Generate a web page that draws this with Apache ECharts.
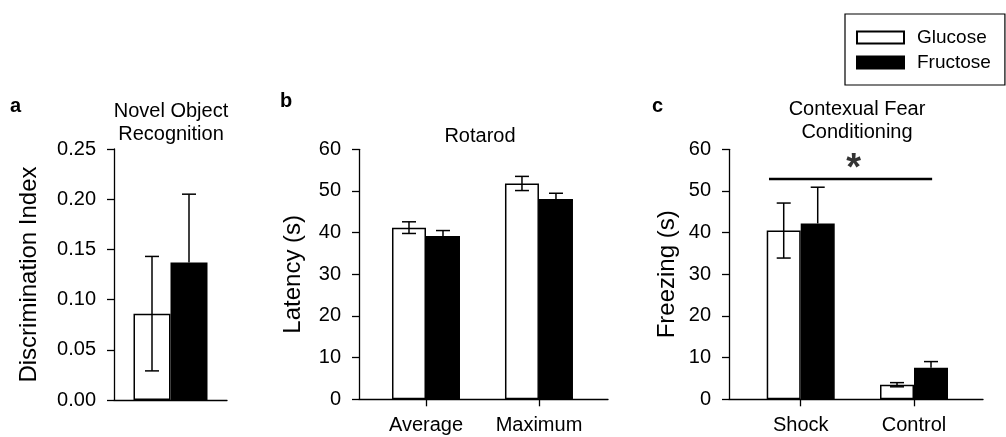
<!DOCTYPE html>
<html><head><meta charset="utf-8">
<script src="https://cdn.jsdelivr.net/npm/echarts@6/dist/echarts.min.js"></script>
<style>html,body{margin:0;padding:0;background:#fff}#c{width:1006px;height:437px}</style>
</head><body><div id="c"></div>
<script>
// ---------------- data ----------------
const norCategories = ['Novel Object Recognition'];
const norGlucose = [0.086];
const norFructose = [0.137];
const norGlucoseSem = [0.057];
const norFructoseSem = [0.068];
const norTicks = [0, 0.05, 0.10, 0.15, 0.20, 0.25];

const rotarodCategories = ['Average', 'Maximum'];
const rotarodGlucose = [41.2, 51.8];
const rotarodFructose = [39.2, 48.1];
const rotarodGlucoseSem = [1.4, 1.7];
const rotarodFructoseSem = [1.3, 1.35];
const rotarodTicks = [0, 10, 20, 30, 40, 50, 60];

const fearCategories = ['Shock', 'Control'];
const fearGlucose = [40.5, 3.5];
const fearFructose = [42.2, 7.6];
const fearGlucoseSem = [6.6, 0.5];
const fearFructoseSem = [8.7, 1.45];
const fearTicks = [0, 10, 20, 30, 40, 50, 60];

const seriesNames = ['Glucose', 'Fructose'];
const sigBracket = [0.72, 2.16];   // category-unit extent of the significance bar
const sigLevel = [52.9];
const sigLabel = ['*'];

// ---------------- layout / style ----------------
const FONT = "'Liberation Sans', Arial, sans-serif";
const panels = [
  { cats: norCategories, g: norGlucose, f: norFructose, gs: norGlucoseSem, fs: norFructoseSem, ticks: norTicks,
    yName: 'Discrimination Index', grid: { left: 114, top: 149, width: 113, height: 251 },
    xMin: 0, xMax: 2, barW: 37, catTicks: false, nameGap: 73, dec: 2 },
  { cats: rotarodCategories, g: rotarodGlucose, f: rotarodFructose, gs: rotarodGlucoseSem, fs: rotarodFructoseSem, ticks: rotarodTicks,
    yName: 'Latency (s)', grid: { left: 359, top: 149.3, width: 249, height: 250 },
    xMin: 0.407, xMax: 2.611, barW: 34, catTicks: true, nameGap: 54, dec: 0 },
  { cats: fearCategories, g: fearGlucose, f: fearFructose, gs: fearGlucoseSem, fs: fearFructoseSem, ticks: fearTicks,
    yName: 'Freezing (s)', grid: { left: 729, top: 149.3, width: 254, height: 250 },
    xMin: 0.367, xMax: 2.609, barW: 34, catTicks: true, nameGap: 50, dec: 0 }
];

function errRender(side, barW, both) {
  return function (params, api) {
    const x = api.value(0), v = api.value(1), e = api.value(2);
    const base = api.coord([x, v]);
    const cx = base[0] + side * barW / 2;
    const top = api.coord([x, v + e])[1];
    const bot = both ? api.coord([x, v - e])[1] : base[1];
    const half = 7;
    const style = { stroke: '#000', lineWidth: 1.5 };
    const children = [
      { type: 'line', shape: { x1: cx, y1: top, x2: cx, y2: bot }, style },
      { type: 'line', shape: { x1: cx - half, y1: top, x2: cx + half, y2: top }, style }
    ];
    if (both) children.push({ type: 'line', shape: { x1: cx - half, y1: bot, x2: cx + half, y2: bot }, style });
    return { type: 'group', children };
  };
}

const grids = [], xAxes = [], yAxes = [], series = [];
panels.forEach((p, i) => {
  grids.push(Object.assign({ containLabel: false }, p.grid));
  const catVals = p.cats.map((c, j) => j + 1);
  xAxes.push({
    type: 'value', gridIndex: i, min: p.xMin, max: p.xMax,
    axisLine: { show: true, onZero: false, lineStyle: { color: '#000', width: 1.3 } },
    axisTick: { show: p.catTicks, length: 7, lineStyle: { color: '#000', width: 1.3 }, customValues: catVals },
    axisLabel: { show: p.catTicks, customValues: catVals, margin: 16, color: '#000', fontSize: 20, fontFamily: FONT,
      formatter: v => p.cats[Math.round(v) - 1] || '' },
    splitLine: { show: false }
  });
  const step = p.ticks[1] - p.ticks[0];
  yAxes.push({
    type: 'value', gridIndex: i, min: p.ticks[0], max: p.ticks[p.ticks.length - 1], interval: step,
    name: p.yName, nameLocation: 'middle', nameRotate: 90, nameGap: p.nameGap,
    nameTextStyle: { fontSize: 24, color: '#000', fontFamily: FONT },
    axisLine: { show: true, lineStyle: { color: '#000', width: 1.3 } },
    axisTick: { show: true, length: 7, lineStyle: { color: '#000', width: 1.3 } },
    axisLabel: { margin: 18, color: '#000', fontSize: 20, fontFamily: FONT, formatter: v => v.toFixed(p.dec) },
    splitLine: { show: false }
  });
  const common = { type: 'bar', xAxisIndex: i, yAxisIndex: i, barWidth: p.barW, barGap: '0%', animation: false };
  series.push(Object.assign({}, common, {
    name: seriesNames[0], data: p.g.map((v, j) => [j + 1, v]),
    itemStyle: { color: '#fff', borderColor: '#000', borderWidth: 1.5 }
  }));
  series.push(Object.assign({}, common, {
    name: seriesNames[1], data: p.f.map((v, j) => [j + 1, v]),
    itemStyle: { color: '#000', borderColor: '#000', borderWidth: 1.5 }
  }));
  series.push({ type: 'custom', name: 'Glucose SEM', xAxisIndex: i, yAxisIndex: i, z: 5, animation: false, silent: true,
    renderItem: errRender(-1, p.barW, true), encode: { x: 0, y: 1 },
    data: p.g.map((v, j) => [j + 1, v, p.gs[j]]) });
  series.push({ type: 'custom', name: 'Fructose SEM', xAxisIndex: i, yAxisIndex: i, z: 5, animation: false, silent: true,
    renderItem: errRender(1, p.barW, false), encode: { x: 0, y: 1 },
    data: p.f.map((v, j) => [j + 1, v, p.fs[j]]) });
  if (i === 2) {
    series.push({ type: 'line', name: 'sig', xAxisIndex: i, yAxisIndex: i, z: 6, animation: false, silent: true,
      symbol: 'none', lineStyle: { color: '#000', width: 2.5 },
      data: sigBracket.map(x => [x, sigLevel[0]]) });
    series.push({ type: 'scatter', name: 'sigStar', xAxisIndex: i, yAxisIndex: i, z: 6, animation: false, silent: true,
      symbolSize: 0,
      label: { show: true, position: 'inside', formatter: sigLabel[0], color: '#000', fontSize: 38, fontWeight: 'bold', fontFamily: FONT,
        offset: [3, -9] },
      data: [[(sigBracket[0] + sigBracket[1]) / 2, sigLevel[0]]] });
  }
});

const chart = echarts.init(document.getElementById('c'), null, { renderer: 'canvas' });
chart.setOption({
  backgroundColor: '#fff',
  animation: false,
  grid: grids, xAxis: xAxes, yAxis: yAxes, series: series,
  legend: {
    data: seriesNames, orient: 'vertical', left: 845, top: 14,
    icon: 'rect', itemWidth: 47, itemHeight: 12, itemGap: 6,
    padding: [14, 14, 13, 11], borderColor: '#000', borderWidth: 1.2,
    selectedMode: false,
    textStyle: { fontSize: 19, color: '#000', fontFamily: FONT, padding: [0, 0, 0, 8] }
  },
  graphic: [
    { type: 'text', x: 10, y: 106, style: { text: 'a', font: 'bold 20px ' + FONT, fill: '#000', verticalAlign: 'middle' } },
    { type: 'text', x: 280, y: 101, style: { text: 'b', font: 'bold 20px ' + FONT, fill: '#000', verticalAlign: 'middle' } },
    { type: 'text', x: 652, y: 106, style: { text: 'c', font: 'bold 20px ' + FONT, fill: '#000', verticalAlign: 'middle' } },
    { type: 'text', x: 171, y: 123, style: { text: 'Novel Object\nRecognition', font: '20px ' + FONT, lineHeight: 23, fill: '#000', align: 'center', verticalAlign: 'middle' } },
    { type: 'text', x: 480, y: 136, style: { text: 'Rotarod', font: '20px ' + FONT, fill: '#000', align: 'center', verticalAlign: 'middle' } },
    { type: 'text', x: 857, y: 121, style: { text: 'Contexual Fear\nConditioning', font: '20px ' + FONT, lineHeight: 23, fill: '#000', align: 'center', verticalAlign: 'middle' } }
  ]
});
</script>
</body></html>
